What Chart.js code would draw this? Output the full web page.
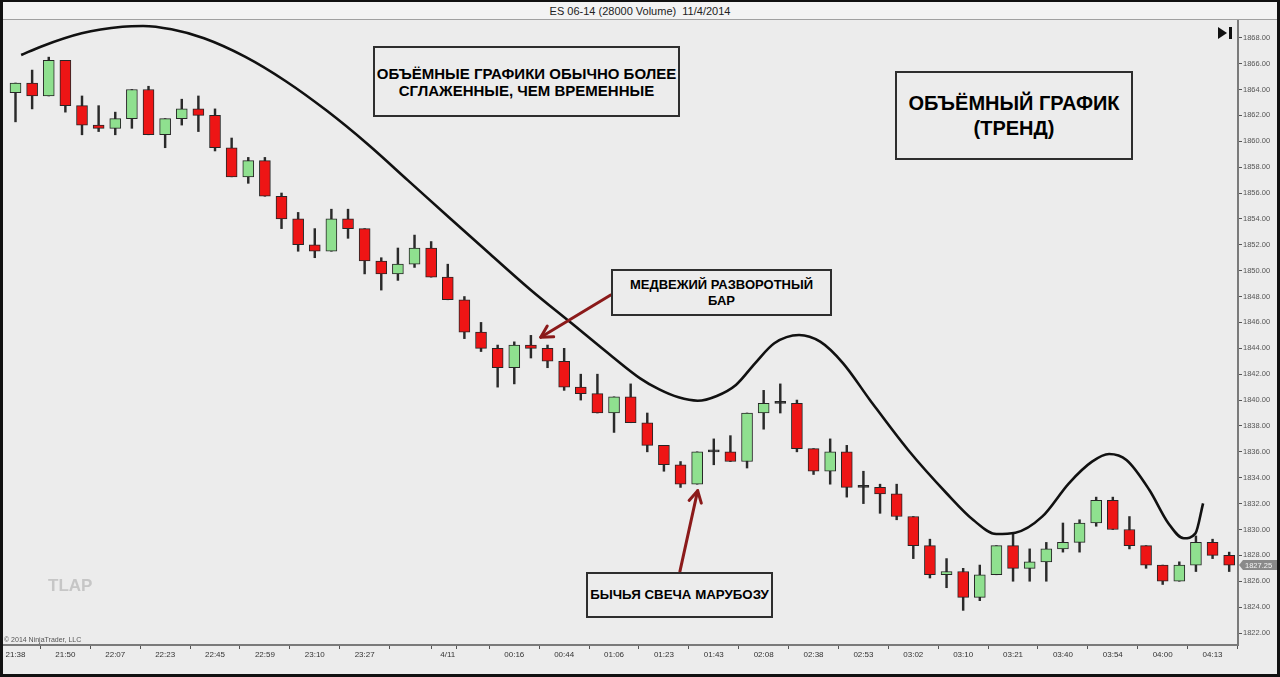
<!DOCTYPE html>
<html><head><meta charset="utf-8">
<script src="https://cdn.jsdelivr.net/npm/chart.js@4.4.1/dist/chart.umd.min.js"></script>
<style>
html,body{margin:0;padding:0;background:#ececec;}
#wrap{position:relative;width:1280px;height:677px;overflow:hidden;background:#ececec;font-family:"Liberation Sans",Arial,sans-serif;}
#c{position:absolute;left:0;top:0;}
.title{position:absolute;left:0;top:0;width:1280px;height:19px;background:#f3f3f3;border-bottom:1px solid #a0a0a0;text-align:center;font-size:11px;line-height:22px;color:#222;}
.frame{position:absolute;left:0;top:0;width:1280px;height:677px;box-sizing:border-box;border:3px solid #111;border-top-width:2px;pointer-events:none;}
.box{position:absolute;box-sizing:border-box;border:2px solid #2e2e2e;background:#ececec;display:flex;align-items:center;justify-content:center;text-align:center;font-weight:bold;color:#000;white-space:nowrap;}
.copy{position:absolute;left:4px;top:636px;font-size:7px;color:#555;}
.tlap{position:absolute;left:48px;top:576px;font-size:17px;font-weight:bold;color:#c6c6c6;}
.btn{position:absolute;left:1218px;top:27px;width:0;height:0;border-top:6px solid transparent;border-bottom:6px solid transparent;border-left:9px solid #111;}
.btnbar{position:absolute;left:1229px;top:27px;width:3px;height:12px;background:#111;}
</style>
</head><body>
<div id="wrap">
<canvas id="c" width="1280" height="677"></canvas>
<div class="title">ES 06-14 (28000 Volume)&nbsp; 11/4/2014</div>
<div class="btn"></div><div class="btnbar"></div>
<div class="box" style="left:373px;top:46px;width:307px;height:71px;font-size:15px;line-height:17px;">ОБЪЁМНЫЕ ГРАФИКИ ОБЫЧНО БОЛЕЕ<br>СГЛАЖЕННЫЕ, ЧЕМ ВРЕМЕННЫЕ</div>
<div class="box" style="left:895px;top:71px;width:238px;height:89px;font-size:20px;line-height:25px;">ОБЪЁМНЫЙ ГРАФИК<br>(ТРЕНД)</div>
<div class="box" style="left:611px;top:269px;width:221px;height:47px;font-size:13px;line-height:16px;">МЕДВЕЖИЙ РАЗВОРОТНЫЙ<br>БАР</div>
<div class="box" style="left:586px;top:572px;width:187px;height:46px;font-size:13.3px;line-height:16px;">БЫЧЬЯ СВЕЧА МАРУБОЗУ</div>
<div class="copy">© 2014 NinjaTrader, LLC</div>
<div class="tlap">TLAP</div>
<div class="frame"></div>
</div>
<script>
const opens  = [1863.75,1864.5,1863.5,1866.25,1862.75,1861.25,1861,1861.75,1864,1860.5,1861.75,1862.5,1862,1859.5,1857.25,1858.5,1855.75,1854,1852,1851.5,1854,1853.25,1850.75,1849.75,1850.5,1851.75,1849.5,1847.75,1845.25,1844,1842.5,1844.25,1844,1843,1841,1840.5,1839,1840.25,1838.25,1836.5,1835,1833.5,1836,1836,1835.25,1839,1839.75,1839.75,1836.25,1834.5,1836,1833.25,1833.25,1832.75,1831,1828.75,1826.5,1826.75,1824.75,1826.5,1828.75,1827,1827.5,1828.5,1829,1830.5,1832.25,1830,1828.75,1827.25,1826,1827.25,1829,1828];
const highs  = [1864.5,1865.5,1866.5,1866.25,1863.5,1862.75,1862.25,1864,1864.25,1861.75,1863.25,1863.5,1862.5,1860.25,1858.75,1858.75,1856,1854.5,1853.25,1854.75,1854.75,1853.25,1851,1851.75,1852.75,1852.25,1850.5,1848,1846,1844.25,1844.5,1845,1844.25,1844,1842,1842,1840.25,1841.25,1839,1836.5,1835.25,1836,1837,1837.25,1839,1840.75,1841.25,1840,1836.25,1837,1836.5,1834.5,1833.5,1833.5,1831,1829.25,1827.75,1827,1827.25,1828.75,1829.75,1828.5,1829,1830.5,1830.75,1832.5,1832.5,1831,1828.75,1827.25,1827.5,1829.5,1829.25,1828.25];
const lows   = [1861.5,1862.5,1863.5,1862.25,1860.5,1860.75,1860.5,1861,1860.5,1859.5,1861.25,1860.75,1859.25,1857.25,1856.75,1855.75,1853.25,1851.5,1851,1851.5,1852.5,1849.75,1848.5,1849.25,1850.25,1849.5,1847.75,1844.75,1843.75,1841,1841.25,1843.25,1842.5,1840.75,1840,1839,1837.5,1838.25,1836,1834.5,1833.25,1833.5,1835,1835.25,1834.75,1837.75,1839,1836,1834.25,1833.5,1832.5,1832,1831.25,1830.75,1827.75,1826.25,1825.5,1823.75,1824.5,1826.5,1826,1826,1826,1828.25,1828.25,1830.25,1830,1828.5,1827,1825.75,1826,1826.75,1827.75,1826.75];
const closes = [1864.5,1863.5,1866.25,1862.75,1861.25,1861,1861.75,1864,1860.5,1861.75,1862.5,1862,1859.5,1857.25,1858.5,1855.75,1854,1852,1851.5,1854,1853.25,1850.75,1849.75,1850.5,1851.75,1849.5,1847.75,1845.25,1844,1842.5,1844.25,1844,1843,1841,1840.5,1839,1840.25,1838.25,1836.5,1835,1833.5,1836,1836,1835.25,1839,1839.75,1839.75,1836.25,1834.5,1836,1833.25,1833.25,1832.75,1831,1828.75,1826.5,1826.75,1824.75,1826.5,1828.75,1827,1827.5,1828.5,1829,1830.5,1832.25,1830,1828.75,1827.25,1826,1827.25,1829,1828,1827.25];

const tickIndex  = [0,3,6,9,12,15,18,21,24,26,27,30,33,36,39,42,45,48,51,54,57,60,63,66,69,72];
const tickLabels = ['21:38','21:50','22:07','22:23','22:45','22:59','23:10','23:27','','4/11','','00:16','00:44','01:06','01:23','01:43','02:08','02:38','02:53','03:02','03:10','03:21','03:40','03:54','04:00','04:13'];
const priceTicks = [1822,1824,1826,1828,1830,1832,1834,1836,1838,1840,1842,1844,1846,1848,1850,1852,1854,1856,1858,1860,1862,1864,1866,1868];

const curveX = [0.34,1.52,3.98,6.43,7.67,9.38,11.34,13.80,16.26,18.71,21.17,23.62,26.08,28.54,30.99,33.45,35.90,37.57,38.72,39.88,41.03,42.18,43.33,44.48,45.64,47.13,48.40,49.78,51.39,53.69,56.0,57.61,58.99,60.14,61.75,63.36,64.75,65.78,66.82,68.20,69.34,70.27,70.97,71.43];
const curveY = [1866.67,1867.31,1868.34,1868.85,1868.91,1868.65,1867.96,1866.54,1864.64,1862.37,1859.79,1856.96,1854.11,1851.29,1848.51,1845.93,1843.35,1841.68,1840.82,1840.21,1839.95,1840.32,1841.17,1842.84,1844.39,1845.03,1844.51,1842.84,1840.01,1836.14,1832.80,1830.73,1829.65,1829.75,1830.99,1833.57,1835.24,1835.83,1835.37,1833.05,1830.48,1829.32,1829.70,1832.02];

// arrows: [tailX, tailY, tipX, tipY] in data units
const arrowBear = [35.8, 1848.12, 31.59, 1844.85];
const arrowBull = [39.96, 1826.74, 41.03, 1833.0];

const GREEN = '#8fe08f', RED = '#ee1515', EDGE = '#262626';
const bodyColors = opens.map((o,i)=> closes[i]>o ? GREEN : (closes[i]<o ? RED : EDGE));

const decor = {
  id:'decor',
  afterDatasetsDraw(chart){
    const {ctx, scales:{x,y}} = chart;
    function arrow(a){
      const x1=x.getPixelForValue(a[0]), y1=y.getPixelForValue(a[1]);
      const x2=x.getPixelForValue(a[2]), y2=y.getPixelForValue(a[3]);
      const ang=Math.atan2(y2-y1,x2-x1), L=13, s=0.5;
      ctx.save();
      ctx.strokeStyle='#8b1a1a'; ctx.lineWidth=3; ctx.lineCap='round'; ctx.lineJoin='round';
      ctx.beginPath(); ctx.moveTo(x1,y1); ctx.lineTo(x2,y2); ctx.stroke();
      ctx.beginPath();
      ctx.moveTo(x2-L*Math.cos(ang-s), y2-L*Math.sin(ang-s));
      ctx.lineTo(x2,y2);
      ctx.lineTo(x2-L*Math.cos(ang+s), y2-L*Math.sin(ang+s));
      ctx.stroke();
      ctx.restore();
    }
    arrow(arrowBear); arrow(arrowBull);
  },
  afterDraw(chart){
    const {ctx, scales:{y}} = chart;
    const last = closes[closes.length-1];
    const py = y.getPixelForValue(last);
    const x0 = chart.chartArea.right+1;
    ctx.save();
    ctx.fillStyle='#8a8a8a';
    ctx.beginPath();
    ctx.moveTo(x0,py); ctx.lineTo(x0+4,py-5); ctx.lineTo(1277,py-5); ctx.lineTo(1277,py+5); ctx.lineTo(x0+4,py+5); ctx.closePath();
    ctx.fill();
    ctx.fillStyle='#f4f4f4'; ctx.font='7.5px "Liberation Sans", Arial'; ctx.textBaseline='middle';
    ctx.fillText(last.toFixed(2), x0+6, py+0.5);
    ctx.restore();
  }
};

new Chart(document.getElementById('c'), {
  type:'bar',
  data:{
    datasets:[
      {type:'line', label:'curve', data:curveX.map((v,i)=>({x:v,y:curveY[i]})), borderColor:'#111', borderWidth:2.6, pointRadius:0, cubicInterpolationMode:'monotone', fill:false, order:1},
      {label:'body', data:opens.map((o,i)=>({x:i,y:[Math.min(o,closes[i]),Math.max(o,closes[i])]})), backgroundColor:bodyColors, borderColor:EDGE, borderWidth:1, borderSkipped:false, barThickness:11, minBarLength:2, grouped:false, order:2},
      {label:'wick', data:opens.map((o,i)=>({x:i,y:[lows[i],highs[i]]})), backgroundColor:'#2a2a2a', borderWidth:0, barThickness:1.8, grouped:false, order:3}
    ]
  },
  options:{
    responsive:false, animation:false,
    layout:{padding:{left:3,top:20,right:3,bottom:3}},
    plugins:{legend:{display:false}, tooltip:{enabled:false}},
    scales:{
      x:{type:'linear', min:-0.752, max:73.53, offset:false,
        afterBuildTicks(s){ s.ticks = tickIndex.map(v=>({value:v})); },
        afterFit(s){ s.height = 29; },
        grid:{drawOnChartArea:false, drawTicks:true, tickLength:4, color:'#555', tickWidth:1},
        border:{display:true, color:'#7a7a7a', width:2},
        ticks:{autoSkip:false, maxRotation:0, padding:1, color:'#333', font:{size:8, family:'"Liberation Sans", Arial'},
          callback:(v,i)=>tickLabels[i]}
      },
      y:{type:'linear', position:'right', min:1821.073, max:1869.37,
        afterBuildTicks(s){ s.ticks = priceTicks.map(v=>({value:v})); },
        afterFit(s){ s.width = 39; },
        grid:{drawOnChartArea:false, drawTicks:true, tickLength:4, color:'#555'},
        border:{display:true, color:'#7a7a7a', width:2},
        ticks:{padding:1, color:'#555', font:{size:7.5, family:'"Liberation Sans", Arial'},
          callback:(v)=>Number(v).toFixed(2)}
      }
    }
  },
  plugins:[decor]
});
</script>
</body></html>
